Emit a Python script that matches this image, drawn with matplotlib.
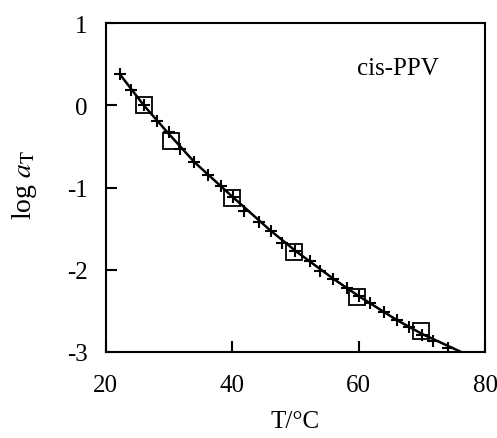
import matplotlib.pyplot as plt

# shift factor data
t_cross = [22.2, 23.9, 26.0, 28.1, 30.0, 31.7, 34.0, 36.1, 38.2, 40.1, 41.9, 44.2,
           46.1, 47.9, 50.0, 52.3, 53.9, 56.0, 58.2, 60.0, 61.8, 64.0, 66.0, 68.0,
           70.0, 71.8, 74.2]
log_cross = [0.38, 0.19, 0.0, -0.19, -0.33, -0.53, -0.69, -0.85, -0.98, -1.12, -1.28,
             -1.42, -1.53, -1.67, -1.77, -1.89, -2.01, -2.11, -2.22, -2.32, -2.41,
             -2.51, -2.61, -2.70, -2.79, -2.87, -2.95]
t_curve = [22.3, 26.0, 30.0, 34.0, 40.0, 46.0, 50.0, 56.0, 60.0, 66.0, 70.0, 76.2]
log_curve = [0.37, 0.0, -0.35, -0.69, -1.11, -1.52, -1.77, -2.11, -2.32, -2.61, -2.78, -3.0]
t_square = [26.0, 30.3, 40.0, 49.8, 59.8, 69.8]
log_square = [0.0, -0.43, -1.13, -1.78, -2.33, -2.74]

plt.rcParams["font.family"] = ["Liberation Serif", "DejaVu Serif"]
plt.rcParams["mathtext.fontset"] = "stix"
plt.rcParams["axes.unicode_minus"] = False

fig = plt.figure(figsize=(4.97, 4.39), dpi=100)
ax = fig.add_axes([0.213, 0.196, 0.763, 0.749])

ax.plot(t_curve, log_curve, color="black", lw=1.8, zorder=2)
ax.plot(t_cross, log_cross, ls="none", marker="+", ms=8, mew=1.5, color="black", zorder=3)
ax.plot(t_square, log_square, ls="none", marker="s", ms=11, mew=1.3,
        mfc="none", mec="black", zorder=4)

ax.text(66.2, 0.46, "cis-PPV", fontsize=18, ha="center", va="center")

ax.set_xlim(20, 80)
ax.set_ylim(-3, 1)
ax.set_xticks([20, 40, 60, 80])
ax.set_yticks([-3, -2, -1, 0, 1])
ax.tick_params(direction="in", length=8, width=1.5, labelsize=18)
ax.tick_params(axis="x", pad=16)
ax.tick_params(axis="y", pad=13)
for s in ax.spines.values():
    s.set_linewidth(1.5)

ax.set_xlabel("T/°C", fontsize=18, labelpad=10)
ax.set_ylabel(r"log $\mathit{a}_{\mathrm{T}}$", fontsize=20)
ax.yaxis.set_label_coords(-0.175, 0.51)

fig.savefig("out.png", dpi=100)
